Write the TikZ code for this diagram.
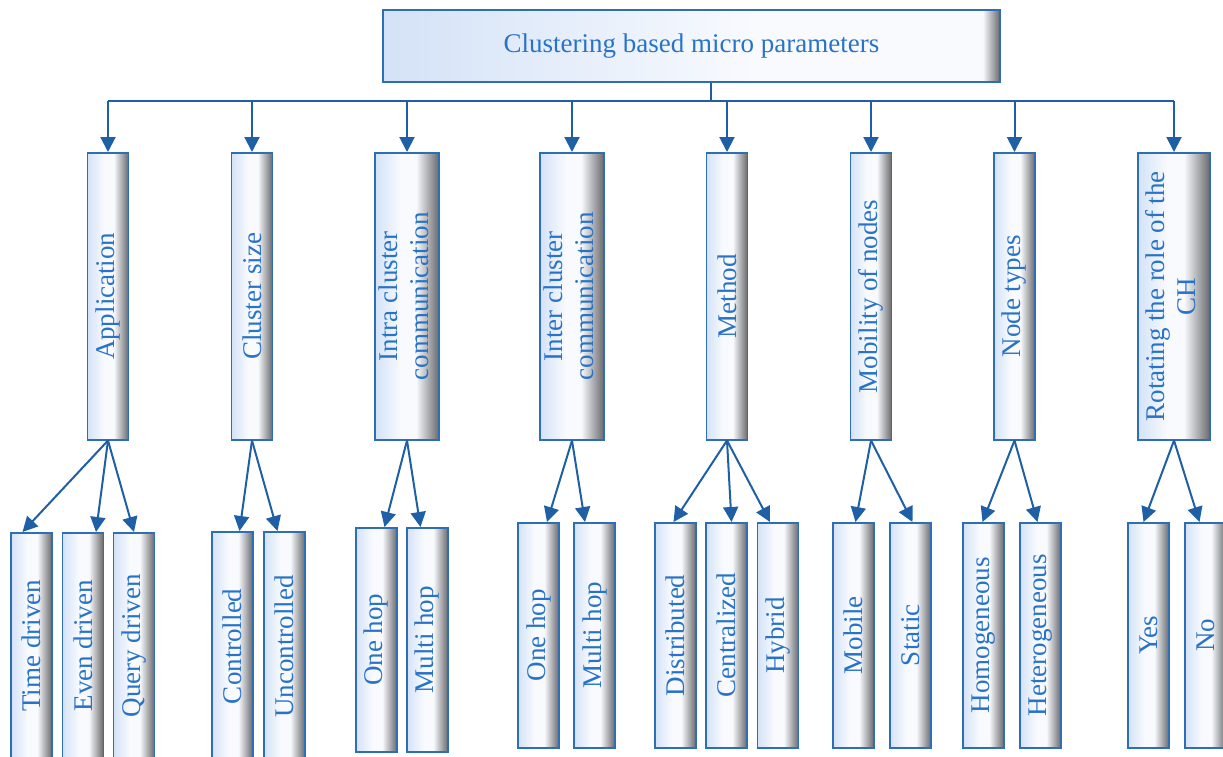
\documentclass[tikz,border=0pt]{standalone}
\usepackage{fontspec}
\setmainfont{Liberation Serif}
\usepackage{graphicx}
\usetikzlibrary{arrows.meta}
\definecolor{bxline}{RGB}{46,110,180}
\definecolor{bxtext}{RGB}{40,115,200}
\definecolor{arcol}{RGB}{30,95,165}
\definecolor{bxleft}{RGB}{212,226,247}
\definecolor{bxmid}{RGB}{248,250,254}
\definecolor{bxdark}{RGB}{105,105,108}
\pgfdeclarehorizontalshading{barshade}{100bp}{color(0bp)=(bxleft); color(25bp)=(bxleft);
	color(45bp)=(bxmid); color(57bp)=(bxmid); color(75bp)=(bxdark); color(100bp)=(bxdark)}
\pgfdeclarehorizontalshading{headshade}{100bp}{color(0bp)=(bxleft); color(25bp)=(bxleft);
	color(55bp)=(bxmid); color(73.6bp)=(bxmid); color(75bp)=(bxdark); color(100bp)=(bxdark)}
\newcommand\bxfont{\fontsize{27}{31}\selectfont}
\newcommand\twoline[2]{\rotatebox{90}{\begin{tabular}{@{}c@{}}#1\\#2\end{tabular}}}
\begin{document}
\begin{tikzpicture}[x=1pt, y=-1pt,
	bx/.style={draw=bxline, line width=1.5pt, inner sep=0pt, text=bxtext, font=\bxfont,
		minimum width=41pt, anchor=north, shading=barshade},
	mid/.style={bx, minimum height=287pt},
	ln/.style={draw=arcol, line width=2pt},
	arr/.style={ln, -{Triangle[width=15pt,length=15pt]}}]
	\useasboundingbox (0,0) rectangle (1223,756);
	\node[bx, shading=headshade, minimum width=617pt, minimum height=72pt] (top) at (691.5,9) {Clustering based micro parameters};
	\coordinate (bus) at (711,101);
	\node[mid] (app) at (108,152) {\rotatebox{90}{Application}};
	\node[mid] (csize) at (252,152) {\rotatebox{90}{Cluster size}};
	\node[mid, minimum width=64pt] (intra) at (407,152) {\twoline{Intra cluster}{communication}};
	\node[mid, minimum width=64pt] (inter) at (572,152) {\twoline{Inter cluster}{communication}};
	\node[mid] (meth) at (727,152) {\rotatebox{90}{Method}};
	\node[mid] (mob) at (871,152) {\rotatebox{90}{Mobility of nodes}};
	\node[mid] (ntype) at (1014.5,152) {\rotatebox{90}{Node types}};
	\node[mid, minimum width=72pt] (rot) at (1174,152) {\twoline{Rotating the role of the}{CH}};
	\draw[ln] (bus |- top.south) -- (bus);
	\draw[ln] (app.north |- bus) -- (rot.north |- bus);
	\foreach \n in {app,csize,intra,inter,meth,mob,ntype,rot}
		\draw[arr] (\n.north |- bus) -- (\n.north);
	\node[bx, minimum height=226pt] (app1) at (31.5,532) {\rotatebox{90}{Time driven}};
	\node[bx, minimum height=226pt] (app2) at (83,532) {\rotatebox{90}{Even driven}};
	\node[bx, minimum height=226pt] (app3) at (134,532) {\rotatebox{90}{Query driven}};
	\node[bx, minimum height=229pt] (csize1) at (232.5,531) {\rotatebox{90}{Controlled}};
	\node[bx, minimum height=229pt] (csize2) at (284.5,531) {\rotatebox{90}{Uncontrolled}};
	\node[bx, minimum height=224pt] (intra1) at (376.5,527) {\rotatebox{90}{One hop}};
	\node[bx, minimum height=224pt] (intra2) at (427.5,527) {\rotatebox{90}{Multi hop}};
	\node[bx, minimum height=225pt] (inter1) at (538.5,522) {\rotatebox{90}{One hop}};
	\node[bx, minimum height=225pt] (inter2) at (594.5,522) {\rotatebox{90}{Multi hop}};
	\node[bx, minimum height=225pt] (meth1) at (675.5,522) {\rotatebox{90}{Distributed}};
	\node[bx, minimum height=225pt] (meth2) at (726.5,522) {\rotatebox{90}{Centralized}};
	\node[bx, minimum height=225pt] (meth3) at (778,522) {\rotatebox{90}{Hybrid}};
	\node[bx, minimum height=225pt] (mob1) at (853.5,522) {\rotatebox{90}{Mobile}};
	\node[bx, minimum height=225pt] (mob2) at (910.5,522) {\rotatebox{90}{Static}};
	\node[bx, minimum height=225pt] (ntype1) at (983.5,522) {\rotatebox{90}{Homogeneous}};
	\node[bx, minimum height=225pt] (ntype2) at (1040.5,522) {\rotatebox{90}{Heterogeneous}};
	\node[bx, minimum height=225pt] (rot1) at (1148.5,522) {\rotatebox{90}{Yes}};
	\node[bx, minimum height=225pt] (rot2) at (1205.5,522) {\rotatebox{90}{No}};
	\draw[arr] (app.south) -- ([xshift=-9pt]app1.north);
	\draw[arr] (app.south) -- ([xshift=13pt]app2.north);
	\draw[arr] (app.south) -- (app3.north);
	\draw[arr] (csize.south) -- ([xshift=7pt]csize1.north);
	\draw[arr] (csize.south) -- ([xshift=-7pt]csize2.north);
	\draw[arr] (intra.south) -- ([xshift=8pt]intra1.north);
	\draw[arr] (intra.south) -- ([xshift=-7pt]intra2.north);
	\draw[arr] (inter.south) -- ([xshift=8.5pt]inter1.north);
	\draw[arr] (inter.south) -- ([xshift=-9.5pt]inter2.north);
	\draw[arr] (meth.south) -- ([xshift=-2pt]meth1.north);
	\draw[arr] (meth.south) -- ([xshift=5pt]meth2.north);
	\draw[arr] (meth.south) -- ([xshift=-8pt]meth3.north);
	\draw[arr] (mob.south) -- ([xshift=2pt]mob1.north);
	\draw[arr] (mob.south) -- ([xshift=2pt]mob2.north);
	\draw[arr] (ntype.south) -- ([xshift=-1pt]ntype1.north);
	\draw[arr] (ntype.south) -- ([xshift=-3pt]ntype2.north);
	\draw[arr] (rot.south) -- ([xshift=-5pt]rot1.north);
	\draw[arr] (rot.south) -- ([xshift=-6pt]rot2.north);
\end{tikzpicture}
\end{document}
